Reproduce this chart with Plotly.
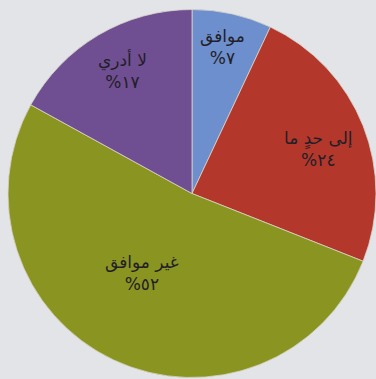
import plotly.graph_objects as go

# Survey responses, in clockwise order from 12 o'clock
labels = ["موافق", "إلى حدٍ ما", "غير موافق", "لا أدري"]
values = [7, 24, 52, 17]
colors = ["#6d8fcd", "#b3382b", "#8a9421", "#6f4f92"]

# label block centres in pixel space (x, y from top-left)
label_px = [(222, 47), (318, 149), (142, 273), (122, 71)]

W, H = 376, 379
ML, MT = 8, 8

AR_DIGITS = str.maketrans("0123456789", "٠١٢٣٤٥٦٧٨٩")


def pct_text(v):
    return "%" + str(v).translate(AR_DIGITS)


fig = go.Figure(
    go.Pie(
        labels=labels,
        values=values,
        sort=False,
        direction="clockwise",
        rotation=0,
        marker=dict(colors=colors, line=dict(color="#d9d4c8", width=0.8)),
        textinfo="none",
        hoverinfo="none",
        showlegend=False,
    )
)

pw, ph = W - ML, H - MT
for lab, v, (px, py) in zip(labels, values, label_px):
    fig.add_annotation(
        x=(px - ML) / pw,
        y=1 - (py - MT) / ph,
        xref="paper",
        yref="paper",
        text=f"{lab}<br>{pct_text(v)}",
        showarrow=False,
        xanchor="center",
        yanchor="middle",
        font=dict(family="DejaVu Sans", size=17, color="#221e28"),
    )

fig.update_layout(
    width=W,
    height=H,
    margin=dict(l=ML, r=0, t=MT, b=0),
    paper_bgcolor="#e2e4e8",
    plot_bgcolor="#e2e4e8",
)

fig.write_html("out.html")
